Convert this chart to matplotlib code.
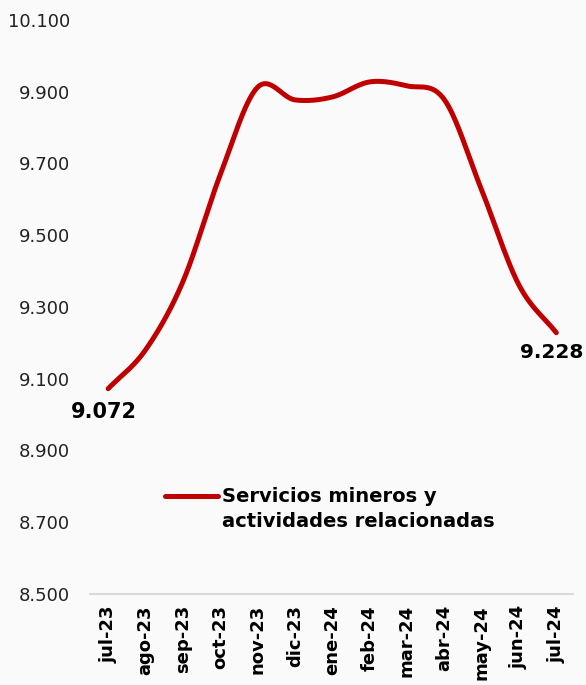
import numpy as np
import matplotlib
matplotlib.use("Agg")
import matplotlib.pyplot as plt
from matplotlib.lines import Line2D

plt.rcParams['font.family'] = ['DejaVu Sans']

months = ["jul-23", "ago-23", "sep-23", "oct-23", "nov-23", "dic-23", "ene-24",
          "feb-24", "mar-24", "abr-24", "may-24", "jun-24", "jul-24"]
values = [9.072, 9.180, 9.370, 9.668, 9.912, 9.877, 9.885,
          9.927, 9.916, 9.878, 9.626, 9.361, 9.228]
series_name = "Servicios mineros y\nactividades relacionadas"
yticks = [8.5, 8.7, 8.9, 9.1, 9.3, 9.5, 9.7, 9.9, 10.1]

RED = "#C00000"
BG = "#FAFAFA"


def catmull_rom(x, y, n=30):
    x = np.asarray(x, float)
    y = np.asarray(y, float)
    px = np.concatenate([[2 * x[0] - x[1]], x, [2 * x[-1] - x[-2]]])
    py = np.concatenate([[2 * y[0] - y[1]], y, [2 * y[-1] - y[-2]]])
    xs, ys = [], []
    for i in range(1, len(px) - 2):
        t = np.linspace(0, 1, n, endpoint=False)
        for arr, out in ((px, xs), (py, ys)):
            p0, p1, p2, p3 = arr[i - 1], arr[i], arr[i + 1], arr[i + 2]
            out.append(0.5 * ((2 * p1) + (-p0 + p2) * t +
                              (2 * p0 - 5 * p1 + 4 * p2 - p3) * t ** 2 +
                              (-p0 + 3 * p1 - 3 * p2 + p3) * t ** 3))
    xs.append([x[-1]])
    ys.append([y[-1]])
    return np.concatenate(xs), np.concatenate(ys)


fig = plt.figure(figsize=(5.86, 6.85), dpi=100, facecolor=BG)
ax = fig.add_axes([0.154, 0.133, 0.824, 0.838], facecolor=BG)

idx = np.arange(len(months))
sx, sy = catmull_rom(idx, values)
ax.plot(sx, sy, color=RED, lw=3.6, solid_capstyle='round')

ax.set_ylim(8.5, 10.1)
ax.set_xlim(-0.48, 12.45)
ax.set_yticks(yticks)
ax.set_yticklabels([f"{v:.3f}" for v in yticks], fontsize=13, color="#222222")
ax.set_xticks(idx)
ax.set_xticklabels(months, rotation=90, fontsize=13, fontweight='bold', color="black")
ax.tick_params(axis='both', length=0)
ax.tick_params(axis='y', pad=14.4)
ax.tick_params(axis='x', pad=8)

for s in ['top', 'right', 'left']:
    ax.spines[s].set_visible(False)
ax.spines['bottom'].set_color("#D9D9D9")
ax.spines['bottom'].set_linewidth(1.5)

ax.annotate(f"{values[0]:.3f}", xy=(idx[0], values[0]), xytext=(-3, -17),
            textcoords='offset points', ha='center', va='center',
            fontsize=15, fontweight='bold', color='black', annotation_clip=False)
ax.annotate(f"{values[-1]:.3f}", xy=(idx[-1], values[-1]), xytext=(-3.5, -14),
            textcoords='offset points', ha='center', va='center',
            fontsize=14.5, fontweight='bold', color='black', annotation_clip=False)

handle = Line2D([0], [0], color=RED, lw=3.6, solid_capstyle='round')
leg = ax.legend([handle], [series_name], loc='upper left',
                bbox_to_anchor=(0.135, 0.2026), frameon=False,
                prop={'size': 14, 'weight': 'bold'}, handlelength=2.7,
                handletextpad=0.2, borderpad=0)
for t in leg.get_texts():
    t.set_color('black')
    t.set_linespacing(1.35)
lh = leg.legend_handles[0]
lh.set_ydata(np.asarray(lh.get_ydata(), float) + 10)

fig.savefig("out.png", dpi=100, facecolor=BG)
